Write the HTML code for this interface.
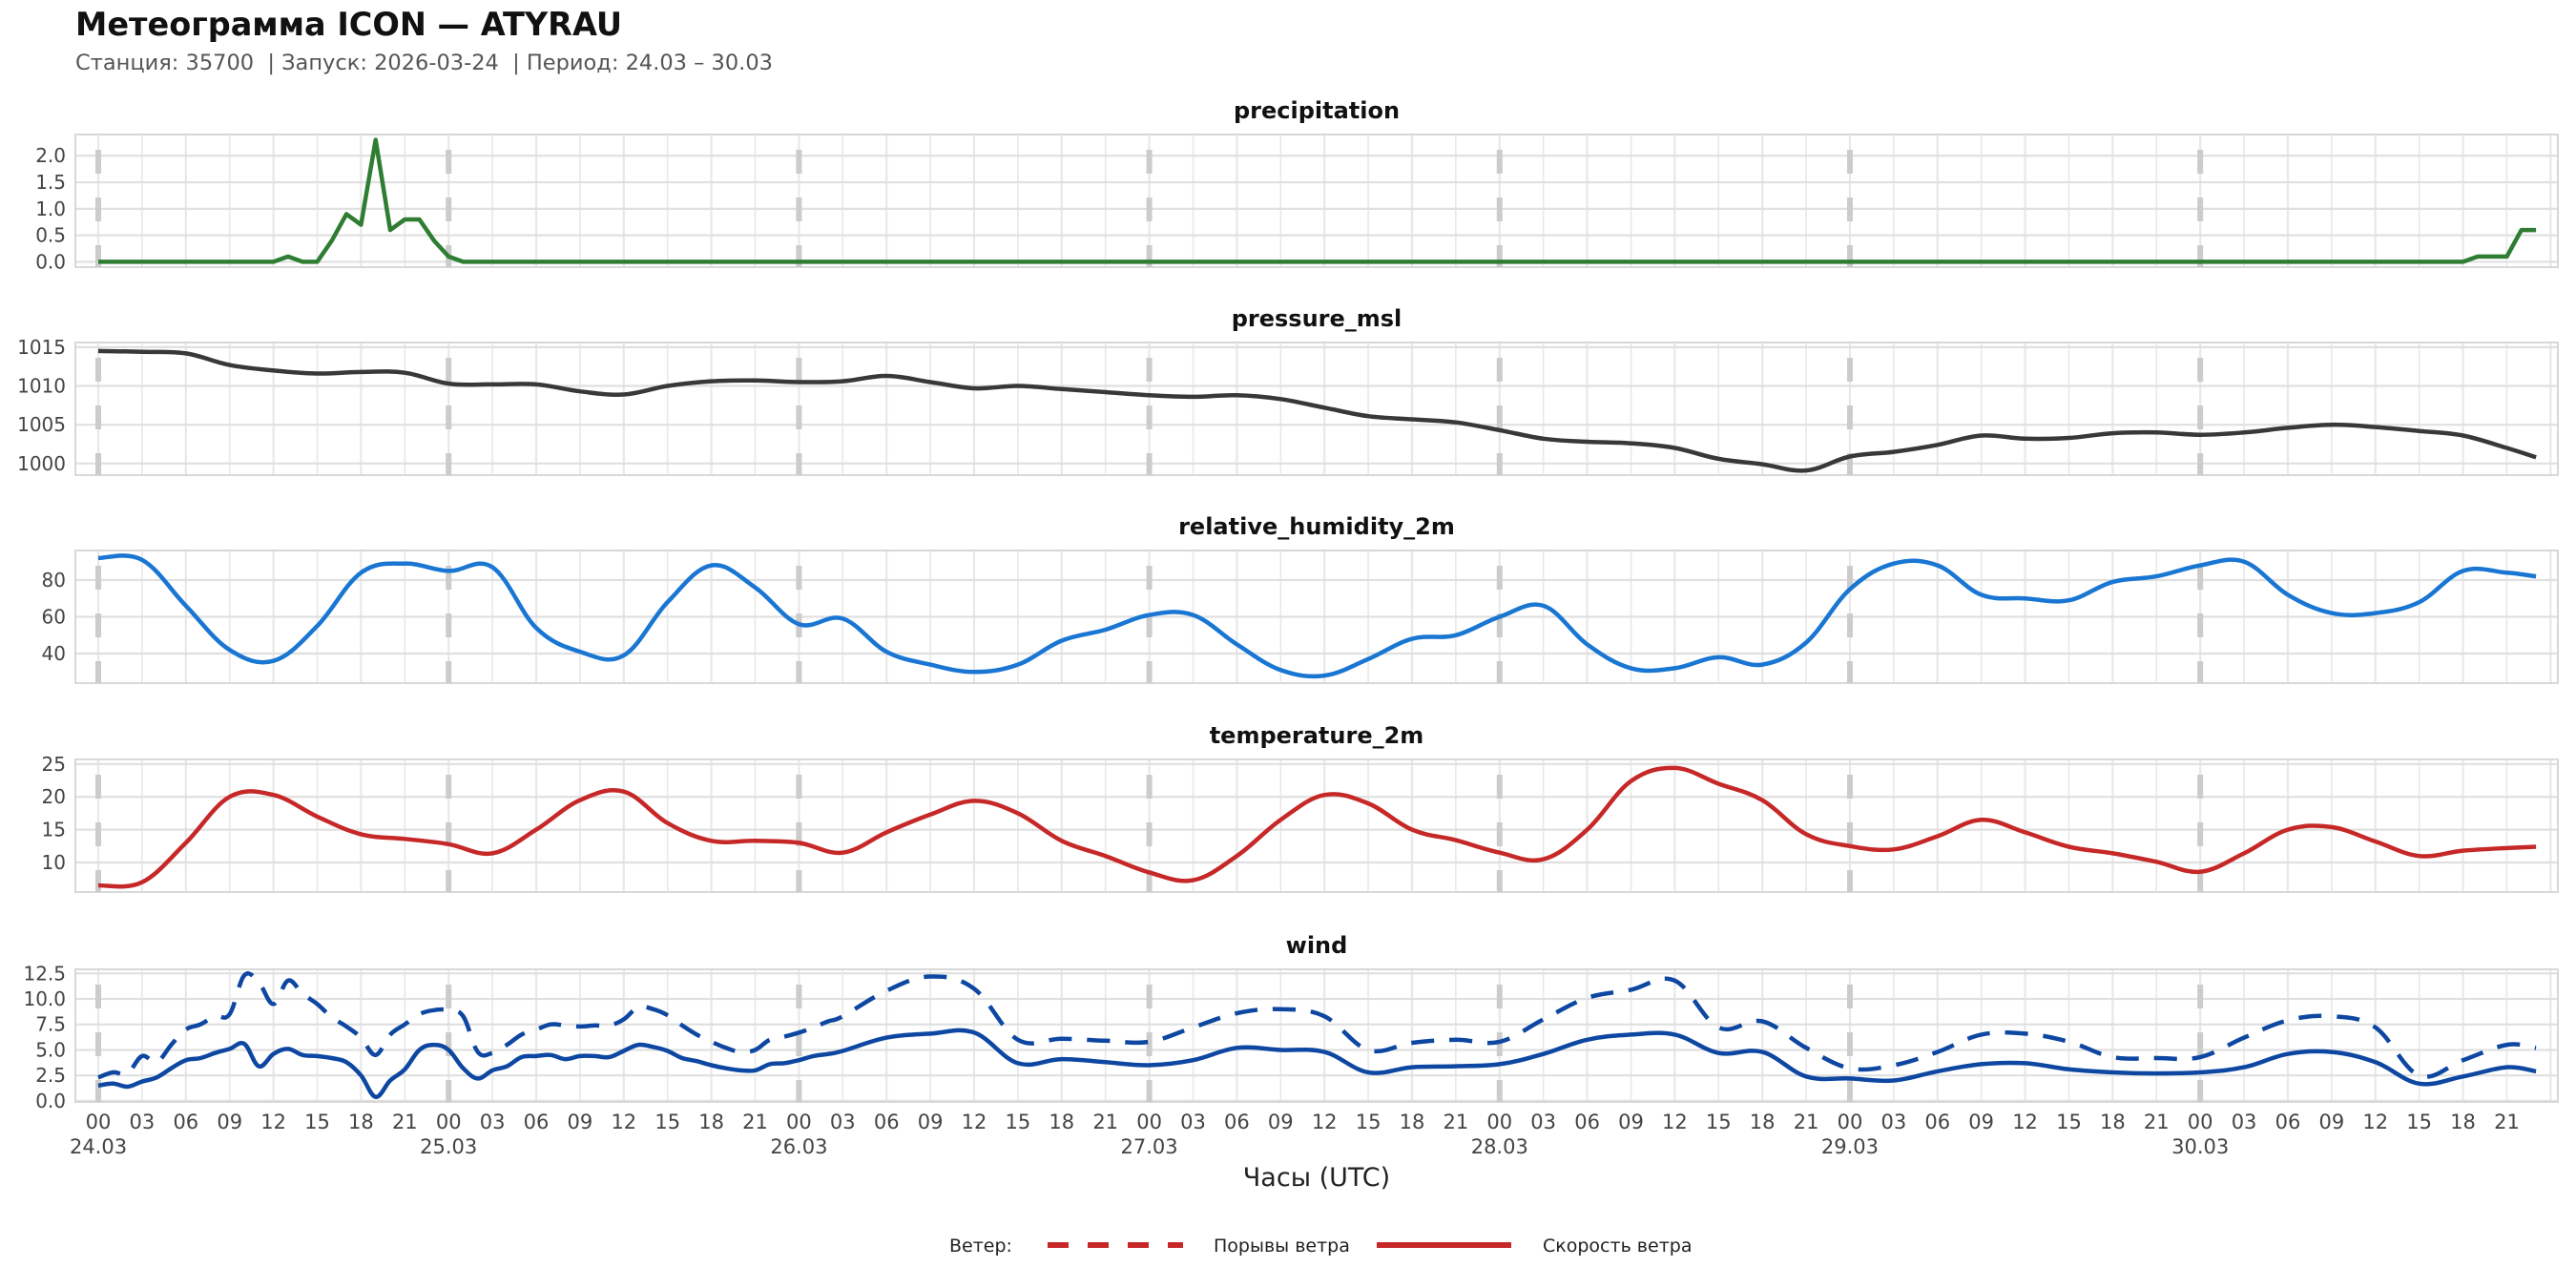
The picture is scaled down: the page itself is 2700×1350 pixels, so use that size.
<!DOCTYPE html>
<html><head><meta charset="utf-8">
<style>
html,body{margin:0;padding:0;background:#fff;}
svg{display:block;font-family:"DejaVu Sans","Liberation Sans",sans-serif;}
</style></head>
<body>
<svg id="chart" width="2700" height="1350" viewBox="0 0 2700 1350" xmlns="http://www.w3.org/2000/svg">
<text x="79" y="37" font-size="33.5" font-weight="bold" fill="#111">Метеограмма ICON — ATYRAU</text>
<text x="79" y="73" font-size="22.5" fill="#555" xml:space="preserve">Станция: 35700  | Запуск: 2026-03-24  | Период: 24.03 – 30.03</text>
<g id="panels"></g>
<text x="1380" y="1243" font-size="27" fill="#222" text-anchor="middle">Часы (UTC)</text>
<g>
<text x="995" y="1312" font-size="19" fill="#222">Ветер:</text>
<line x1="1098" y1="1305" x2="1240" y2="1305" stroke="#c62828" stroke-width="6" stroke-dasharray="22 20"/>
<text x="1272" y="1312" font-size="19" fill="#222">Порывы ветра</text>
<line x1="1443" y1="1305" x2="1584" y2="1305" stroke="#c62828" stroke-width="6"/>
<text x="1617" y="1312" font-size="19" fill="#222">Скорость ветра</text>
</g>
</svg>
<script>
const hours3 = [0,3,6,9,12,15,18,21,24,27,30,33,36,39,42,45,48,51,54,57,60,63,66,69,72,75,78,81,84,87,90,93,96,99,102,105,108,111,114,117,120,123,126,129,132,135,138,141,144,147,150,153,156,159,162,165,167];
const precipHours = [0,12,13,14,15,16,17,18,19,20,21,22,23,24,25,162,163,165,166,167];
const precipValues = [0,0,0.1,0,0,0.4,0.9,0.7,2.3,0.6,0.8,0.8,0.4,0.1,0,0,0.1,0.1,0.6,0.6];
const pressureValues = [1014.5,1014.4,1014.2,1012.7,1012.0,1011.6,1011.8,1011.7,1010.3,1010.2,1010.2,1009.3,1008.9,1010.0,1010.6,1010.7,1010.5,1010.6,1011.3,1010.5,1009.7,1010.0,1009.6,1009.2,1008.8,1008.6,1008.8,1008.3,1007.2,1006.1,1005.7,1005.3,1004.3,1003.2,1002.8,1002.6,1002.0,1000.6,999.9,999.1,1000.9,1001.5,1002.4,1003.6,1003.2,1003.3,1003.9,1004.0,1003.7,1004.0,1004.6,1005.0,1004.7,1004.2,1003.6,1002.0,1000.8];
const humidityValues = [92,91,66,42,36,55,84,89,85,87,54,41,39,68,88,76,56,59,41,34,30,34,47,53,61,61,45,31,28,37,48,50,60,66,45,32,32,38,34,46,75,89,88,72,70,69,79,82,88,90,72,62,62,68,85,84,82];
const temperatureValues = [6.5,7.0,13,20,20.3,17,14.3,13.6,12.8,11.4,15,19.5,20.8,16,13.3,13.3,13,11.5,14.6,17.3,19.4,17.5,13.3,11,8.5,7.3,11,16.5,20.3,19,15,13.4,11.5,10.5,15,22.4,24.4,22,19.5,14.3,12.5,12,14,16.5,14.6,12.4,11.4,10.1,8.6,11.4,15,15.4,13.2,11,11.8,12.2,12.4];
const windHours = [0,1,2,3,4,5,6,7,8,9,10,11,12,13,14,15,16,17,18,19,20,21,22,23,24,25,26,27,28,29,30,31,32,33,34,35,36,37,38,39,40,41,42,43,44,45,46,47,48,49,50,51,54,57,60,63,66,69,72,75,78,81,84,87,90,93,96,99,102,105,108,111,114,117,120,123,126,129,132,135,138,141,144,147,150,153,156,159,162,165,167];
const windSpeedValues = [1.5,1.7,1.4,1.9,2.3,3.2,4.0,4.2,4.7,5.1,5.6,3.4,4.6,5.1,4.5,4.4,4.2,3.8,2.5,0.4,2.0,3.1,5.0,5.5,5.0,3.2,2.2,3.0,3.4,4.3,4.4,4.5,4.1,4.4,4.4,4.3,4.9,5.5,5.3,4.9,4.2,3.9,3.5,3.2,3.0,3.0,3.6,3.7,4.0,4.4,4.6,4.9,6.2,6.6,6.7,3.7,4.1,3.8,3.5,4.0,5.2,5.0,4.8,2.8,3.3,3.4,3.6,4.6,6.0,6.5,6.5,4.7,4.8,2.4,2.2,2.0,2.9,3.6,3.7,3.1,2.8,2.7,2.8,3.3,4.6,4.8,3.8,1.7,2.4,3.3,2.9];
const windGustValues = [2.3,2.8,2.7,4.4,3.8,5.5,7.0,7.5,8.3,8.5,12.3,11.6,9.5,11.8,10.5,9.5,8.2,7.3,6.2,4.5,6.5,7.5,8.5,8.9,8.9,8.3,4.8,4.7,5.5,6.5,7.0,7.5,7.4,7.3,7.4,7.4,8.0,9.2,9.0,8.4,7.4,6.5,5.8,5.2,4.8,5.0,6.0,6.3,6.7,7.2,7.8,8.3,10.8,12.2,11.0,6.0,6.1,5.9,5.8,7.2,8.6,9.0,8.3,5.0,5.7,6.0,5.8,8.0,10.1,10.9,11.8,7.2,7.8,5.2,3.2,3.5,4.8,6.5,6.6,5.8,4.3,4.2,4.3,6.2,7.9,8.3,7.2,2.5,4.0,5.5,5.2];
const hourTickLabels = ["00","03","06","09","12","15","18","21"];
const dateLabels = ["24.03","25.03","26.03","27.03","28.03","29.03","30.03"];
const precipTicks = [0,0.5,1.0,1.5,2.0];
const pressureTicks = [1000,1005,1010,1015];
const humidityTicks = [40,60,80];
const temperatureTicks = [10,15,20,25];
const windTicks = [0,2.5,5,7.5,10,12.5];

const NS = "http://www.w3.org/2000/svg";
const X0 = 79, X1 = 2681, HMIN = -1.57, HMAX = 168.5;
function xs(h){ return X0 + (h - HMIN) / (HMAX - HMIN) * (X1 - X0); }
function mk(tag, attrs, parent){ const e = document.createElementNS(NS, tag); for (const k in attrs) e.setAttribute(k, attrs[k]); parent.appendChild(e); return e; }
const root = document.getElementById('panels');

function smoothPath(p){
  let d = 'M' + p[0][0].toFixed(1) + ',' + p[0][1].toFixed(1);
  for (let i = 0; i < p.length - 1; i++) {
    const p0 = p[i-1] || p[i], p1 = p[i], p2 = p[i+1], p3 = p[i+2] || p2;
    const t = 0.18;
    const c1x = p1[0] + (p2[0] - p0[0]) * t, c1y = p1[1] + (p2[1] - p0[1]) * t;
    const c2x = p2[0] - (p3[0] - p1[0]) * t, c2y = p2[1] - (p3[1] - p1[1]) * t;
    d += ' C' + c1x.toFixed(1) + ',' + c1y.toFixed(1) + ' ' + c2x.toFixed(1) + ',' + c2y.toFixed(1) + ' ' + p2[0].toFixed(1) + ',' + p2[1].toFixed(1);
  }
  return d;
}

function panel(name, title, top, bottom, ymin, ymax, ticks, fmt, series){
  const g = mk('g', {}, root);
  
  
  const ys = v => bottom - (v - ymin) / (ymax - ymin) * (bottom - top);
  const t = mk('text', {x: 1380, y: top - 17, 'font-size': 24, 'font-weight': 'bold', fill: '#111', 'text-anchor': 'middle'}, g);
  t.textContent = title;
  
  
  for (let h = 0; h <= 168; h += 3) {
    const l = mk('line', {x1: xs(h), x2: xs(h), y1: top, y2: bottom, stroke: '#e8e8e8', 'stroke-width': h % 6 === 0 ? 2.2 : 1.6}, g);
    
    
  }
  ticks.forEach(v => {
    const l = mk('line', {x1: X0, x2: X1, y1: ys(v), y2: ys(v), stroke: '#e0e0e0', 'stroke-width': 2.2}, g);
    
    
    const tl = mk('text', {x: X0 - 10, y: ys(v) + 7, 'font-size': 20, fill: '#444', 'text-anchor': 'end'}, g);
    tl.textContent = fmt(v);
    
    
  });
  const fr = mk('rect', {x: X0, y: top, width: X1 - X0, height: bottom - top, fill: 'none', stroke: '#d8d8d8', 'stroke-width': 2}, g);
  
  
  for (let d = 0; d < 7; d++) {
    const l = mk('line', {x1: xs(d*24), x2: xs(d*24), y1: top + 16, y2: bottom, stroke: '#cccccc', 'stroke-width': 6, 'stroke-dasharray': '25 25'}, g);
    
    
  }
  series.forEach(s => {
    const pts = s.h.map((h, i) => [xs(h), ys(s.v[i])]);
    let p;
    if (s.smooth) {
      p = mk('path', {d: smoothPath(pts), fill: 'none', stroke: s.color, 'stroke-width': 4.5, 'stroke-linejoin': 'round'}, g);
    } else {
      p = mk('polyline', {points: pts.map(q => q[0].toFixed(1) + ',' + q[1].toFixed(1)).join(' '), fill: 'none', stroke: s.color, 'stroke-width': 4.5, 'stroke-linejoin': 'round'}, g);
    }
    if (s.dash) p.setAttribute('stroke-dasharray', s.dash);
    
    
  });
}

panel('precipitation', 'precipitation', 141, 280, -0.1, 2.4, precipTicks, v => v.toFixed(1),
  [{h: precipHours, v: precipValues, color: '#2e7d32', name: 'precipitation-line'}]);
panel('pressure', 'pressure_msl', 359, 498, 998.5, 1015.6, pressureTicks, v => String(v),
  [{h: hours3, v: pressureValues, color: '#383838', smooth: true, name: 'pressure-line'}]);
panel('humidity', 'relative_humidity_2m', 577, 716, 23.9, 96.1, humidityTicks, v => String(v),
  [{h: hours3, v: humidityValues, color: '#1976d2', smooth: true, name: 'humidity-line'}]);
panel('temperature', 'temperature_2m', 796, 935, 5.5, 25.7, temperatureTicks, v => String(v),
  [{h: hours3, v: temperatureValues, color: '#c62828', smooth: true, name: 'temperature-line'}]);
panel('wind', 'wind', 1016, 1155, -0.1, 12.9, windTicks, v => v.toFixed(1),
  [{h: windHours, v: windGustValues, color: '#0d47a1', dash: '24 16', smooth: true, name: 'wind-gust-line'},
   {h: windHours, v: windSpeedValues, color: '#0d47a1', smooth: true, name: 'wind-speed-line'}]);

const ax = mk('g', {}, root);


for (let h = 0; h <= 165; h += 3) {
  const t = mk('text', {x: xs(h), y: 1183, 'font-size': 21, fill: '#444', 'text-anchor': 'middle'}, ax);
  t.textContent = hourTickLabels[(h % 24) / 3];
  
  
}
dateLabels.forEach((d, i) => {
  const t = mk('text', {x: xs(i*24), y: 1209, 'font-size': 21, fill: '#444', 'text-anchor': 'middle'}, ax);
  t.textContent = d;
  
  
});
</script>
</body></html>
